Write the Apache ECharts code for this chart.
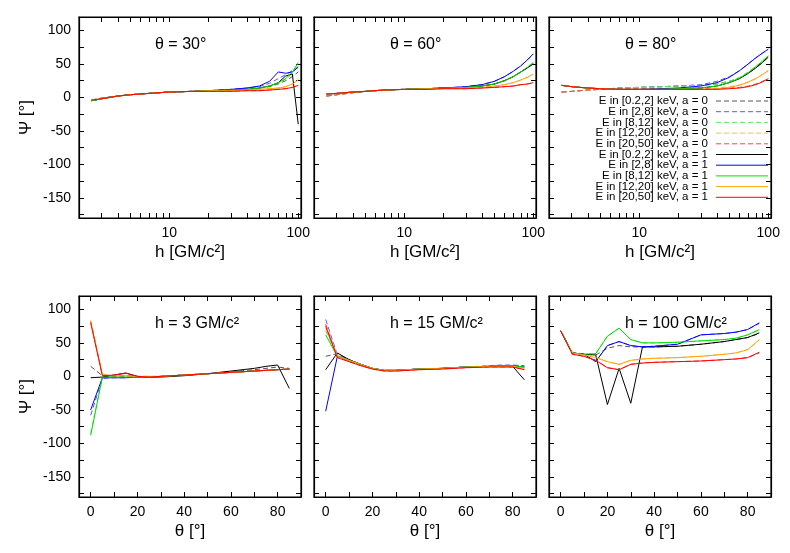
<!DOCTYPE html>
<html><head><meta charset="utf-8">
<script src="https://cdn.jsdelivr.net/npm/echarts@6/dist/echarts.min.js"></script>
<style>html,body{margin:0;padding:0;background:#fff}#c{width:790px;height:553px}</style>
</head><body><div id="c"></div>
<script>
const names=['E in [0.2,2] keV, a = 0','E in [2,8] keV, a = 0','E in [8,12] keV, a = 0','E in [12,20] keV, a = 0','E in [20,50] keV, a = 0',
'E in [0.2,2] keV, a = 1','E in [2,8] keV, a = 1','E in [8,12] keV, a = 1','E in [12,20] keV, a = 1','E in [20,50] keV, a = 1'];
const colors0=['#555555','#5555ff','#55ee55','#ffbb44','#ff4444'];
const colors1=['#000000','#0000ff','#00dd00','#ffa500','#ff0000'];
const H=[2.5,3,4,5,7,10,15,20,30,40,50,60,70,80,90,100];
const T=[0,5,10,15,20,25,30,40,50,60,70,75,80,85];
const T2=[0,5,10,15,20,25,30,35,40,50,60,70,75,80,85];
const titles=['θ = 30°','θ = 60°','θ = 80°','h = 3 GM/c²','h = 15 GM/c²','h = 100 GM/c²'];

const th30_a0=[[-4,-1,2,4,6,8,9,10,11,12,14,16,20,25,31,38],[-4,-1,2,4,6,8,9,10,12,14,16,21,28,34,40,46],[-4,-1,2,4,6,8,9,10,11,12,14,17,21,27,36,50],[-4,-1,2,4,6,8,9,10,10,11,12,13,14,16,20,27],[-4,-1,2,4,6,8,9,9,9,10,10,11,12,13,15,18]];
const th30_a1=[[-5,-2,2,4,6,8,9,10,11,12,14,17,22,32,35,-40],[-5,-2,2,4,6,8,9,10,12,14,17,24,38,36,38,45],[-5,-2,2,4,6,8,9,10,11,12,14,17,22,28,38,52],[-4,-2,2,4,6,8,9,10,10,11,12,13,14,16,20,26],[-4,-2,2,4,6,8,9,9,9,10,10,11,12,13,15,18]];
const th60_a0=[[2,4,7,9,11,12,13,14,15,17,20,25,31,38,44,50],[2,4,7,9,11,12,13,14,16,19,24,31,39,47,56,64],[2,4,7,9,11,12,13,14,15,17,20,25,31,38,45,51],[2,4,7,9,11,12,13,13,14,15,17,19,22,26,30,34],[2,4,7,9,11,12,12,13,13,14,15,16,17,19,20,22]];
const th60_a1=[[5,6,8,9,11,12,13,14,15,17,20,25,31,38,44,50],[5,6,8,9,11,12,13,14,16,19,24,31,39,47,56,65],[5,6,8,9,11,12,13,14,15,17,20,25,31,38,45,52],[5,6,8,9,11,12,13,13,14,15,17,19,22,26,30,35],[5,6,8,9,11,12,12,13,13,14,15,16,17,19,20,22]];
const th80_a0=[[8,9,11,12,14,15,16,17,18,20,24,29,36,44,52,60],[8,9,11,12,14,15,16,17,19,24,31,40,50,59,66,72],[8,9,11,12,14,15,16,17,18,20,24,30,38,46,54,62],[8,9,11,12,13,14,14,14,14,14,16,19,23,28,34,40],[8,9,11,12,13,13,13,13,13,13,14,15,17,20,24,28]];
const th80_a1=[[18,16,14,13,12,12,12,13,14,17,22,28,36,44,52,60],[18,16,14,13,12,12,13,14,17,22,30,40,50,59,66,72],[18,16,14,13,12,12,12,13,14,17,22,29,37,46,54,62],[18,16,14,13,12,12,12,12,12,13,15,18,23,28,34,40],[18,16,14,13,12,12,12,12,12,12,13,14,16,19,23,28]];
const h3_a0=[[15,1,0,0,-1,-1,0,2,4,7,10,12,14,12],[-58,-3,-2,-2,-1,-1,0,2,4,6,8,9,10,11],[-85,-1,-1,-1,-1,-1,0,2,4,6,8,9,10,11],[84,3,1,1,0,0,0,2,4,6,8,9,10,11],[82,2,1,2,0,0,0,2,4,6,8,9,10,11]];
const h3_a1=[[-2,-1,2,5,0,-1,-1,1,4,8,12,15,17,-18],[-50,-2,-2,-2,-1,-1,0,2,4,6,8,9,10,11],[-88,-1,-1,-1,-1,-1,0,2,4,6,8,9,10,11],[82,2,1,1,0,0,0,2,4,6,8,9,10,11],[80,1,2,5,0,-1,0,2,4,6,8,9,10,11]];
const h15_a0=[[30,34,25,18,12,9,9,11,12,14,15,16,16,15],[85,32,25,18,12,9,9,11,12,14,16,17,17,16],[68,31,24,18,12,9,9,11,12,14,15,16,16,14],[76,31,24,18,12,9,9,11,12,14,15,15,15,13],[78,29,22,16,11,8,8,10,11,13,14,14,14,11]];
const h15_a1=[[10,35,25,18,12,9,9,11,12,14,15,15,15,-5],[-52,30,24,18,12,9,9,11,12,14,15,16,16,14],[62,30,24,18,12,9,9,11,12,14,15,16,16,14],[72,30,24,18,12,9,9,11,12,14,15,15,15,12],[75,28,22,16,11,8,8,10,11,13,14,14,14,10]];
const h100_a0=[[68,35,33,32,42,46,44,44,44,45,48,52,55,58,64],[68,35,33,22,46,52,46,44,45,48,62,64,66,70,79],[68,35,33,34,60,72,55,50,50,51,53,55,57,62,69],[68,35,32,28,22,18,24,26,27,28,30,33,35,40,54],[68,33,30,24,13,10,18,20,21,22,23,25,26,28,35]];
const h100_a1=[[68,35,33,32,-42,12,-40,44,44,45,48,52,55,58,65],[68,35,33,22,46,52,46,44,45,48,62,64,66,70,80],[68,35,33,34,60,72,55,50,50,51,53,55,57,62,70],[68,35,32,28,22,18,24,26,27,28,30,33,35,40,55],[68,33,30,24,13,10,18,20,21,22,23,25,26,28,36]];

const panels=[[H,th30_a0,th30_a1],[H,th60_a0,th60_a1],[H,th80_a0,th80_a1],[T,h3_a0,h3_a1],[T,h15_a0,h15_a1],[T2,h100_a0,h100_a1]];
const lefts=[79,314,549], tops=[17,296], W=222, HH=201;
const grid=[],xAxis=[],yAxis=[],series=[],graphic=[];
const yTicks=[], yLabels=[-150,-100,-50,0,50,100];
for(let v=-175;v<=100;v+=25) yTicks.push(v);
const logTicks=[2,3,4,5,6,7,8,9,10,20,30,40,50,60,70,80,90,100];
const linTicks=[0,10,20,30,40,50,60,70,80,90];
const font='Liberation Sans, Arial, sans-serif';
const axLine={onZero:false,lineStyle:{color:'#000',width:1.2}};
panels.forEach((p,i)=>{
  const r=Math.floor(i/3),c=i%3;
  grid.push({left:lefts[c],top:tops[r],width:W,height:HH,show:true,borderColor:'#000',borderWidth:1.2});
  const top=r===0;
  const xb={gridIndex:i,axisLine:axLine,splitLine:{show:false},
    axisTick:{inside:true,length:5,lineStyle:{color:'#000'},customValues:top?logTicks:linTicks},
    axisLabel:{color:'#000',fontSize:14,fontFamily:font,customValues:top?[10,100]:[0,20,40,60,80]}};
  if(top) Object.assign(xb,{type:'log',min:2,max:105}); else Object.assign(xb,{type:'value',min:-5,max:90});
  xAxis.push(Object.assign({},xb,{position:'bottom',name:top?'h [GM/c²]':'θ [°]',nameLocation:'middle',nameGap:26,nameTextStyle:{color:'#000',fontSize:17,fontFamily:font}}));
  xAxis.push(Object.assign({},xb,{position:'top',axisLabel:{show:false}}));
  const yb={type:'value',gridIndex:i,min:-180,max:120,axisLine:axLine,splitLine:{show:false},
    axisTick:{inside:true,length:5,lineStyle:{color:'#000'},customValues:yTicks},
    axisLabel:{color:'#000',fontSize:14,fontFamily:font,customValues:yLabels,show:c===0}};
  yAxis.push(Object.assign({},yb,{position:'left',name:c===0?'Ψ [°]':'',nameLocation:'middle',nameGap:44,nameTextStyle:{color:'#000',fontSize:17,fontFamily:font}}));
  yAxis.push(Object.assign({},yb,{position:'right',axisLabel:{show:false}}));
  const xs=p[0];
  [p[1],p[2]].forEach((set,a)=>{
    set.forEach((vals,k)=>{
      series.push({type:'line',name:names[a*5+k],xAxisIndex:2*i,yAxisIndex:2*i,symbol:'none',silent:true,
        data:xs.map((x,j)=>[x,vals[j]]),
        lineStyle:{color:a?colors1[k]:colors0[k],width:1,type:a?'solid':[5,3]},itemStyle:{color:a?colors1[k]:colors0[k]},z:a?3:2});
    });
  });
  graphic.push({type:'text',left:lefts[c]+W/2-35,top:tops[r]+20,style:{text:titles[i],fontSize:16,fontFamily:font,fill:'#000'}});
});
names.forEach((n,j)=>{const a=j>=5,k=j%5,y=101+j*10.7;
  graphic.push({type:'text',x:708,y:y,style:{text:n,fontSize:11.5,fontFamily:font,fill:'#000',align:'right',verticalAlign:'middle'},z:10});
  graphic.push({type:'line',shape:{x1:716,y1:y,x2:768,y2:y},style:{stroke:a?colors1[k]:colors0[k],lineWidth:1,lineDash:a?null:[5,3]},z:10});
});
const chart=echarts.init(document.getElementById('c'));
chart.setOption({animation:false,grid,xAxis,yAxis,series,graphic});
</script></body></html>
